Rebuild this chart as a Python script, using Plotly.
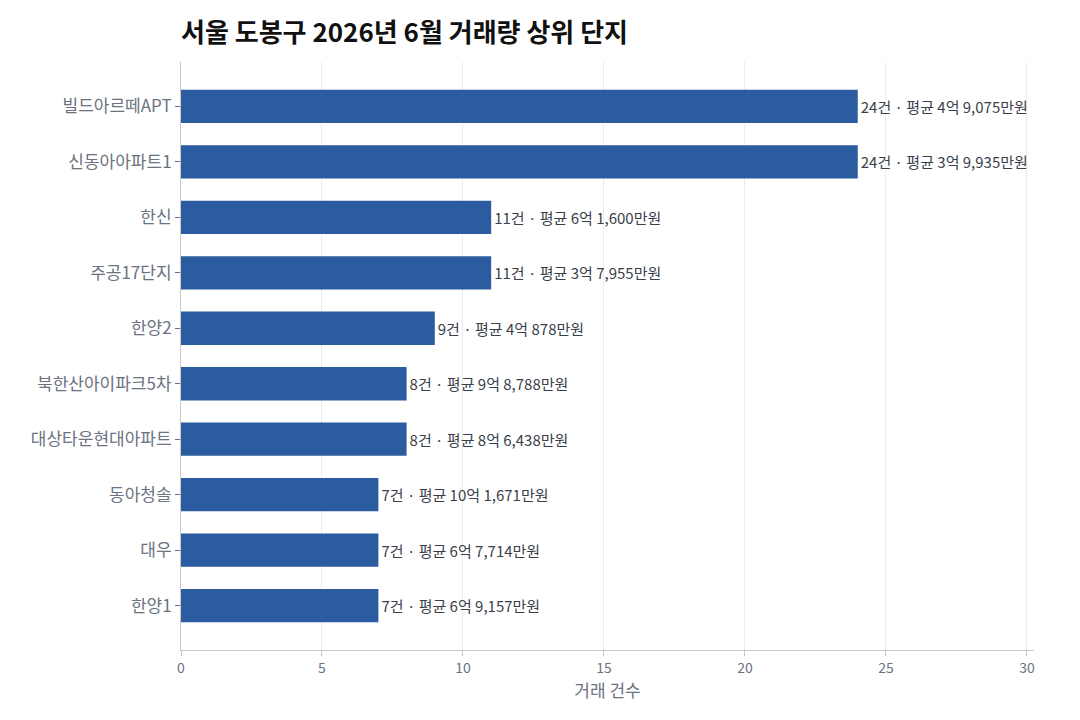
import plotly.graph_objects as go

complexes = ["빌드아르떼APT", "신동아아파트1", "한신", "주공17단지", "한양2",
             "북한산아이파크5차", "대상타운현대아파트", "동아청솔", "대우", "한양1"]
counts = [24, 24, 11, 11, 9, 8, 8, 7, 7, 7]
avg_price_labels = ["4억 9,075만원", "3억 9,935만원", "6억 1,600만원", "3억 7,955만원",
                    "4억 878만원", "9억 8,788만원", "8억 6,438만원", "10억 1,671만원",
                    "6억 7,714만원", "6억 9,157만원"]

labels = [f"{c}건 · 평균 {p}" for c, p in zip(counts, avg_price_labels)]

FONT = "Noto Sans CJK KR"

fig = go.Figure(go.Bar(
    x=counts, y=complexes, orientation="h",
    marker=dict(color="#2B5C9F", line=dict(width=0)),
    width=0.6,
    text=labels, textposition="outside", cliponaxis=False,
    textfont=dict(family=FONT, size=15, color="#3a3f4b"),
    hoverinfo="skip",
))

fig.update_layout(
    width=1080, height=720,
    margin=dict(l=181, r=46, t=62, b=70),
    paper_bgcolor="white", plot_bgcolor="white",
    font=dict(family=FONT),
    title=dict(text="<b>서울 도봉구 2026년 6월 거래량 상위 단지</b>",
               x=181/1080, xanchor="left", y=0.955, yanchor="middle",
               font=dict(size=26, color="#111111", family=FONT)),
    showlegend=False,
    uniformtext=dict(mode=False),
)
fig.update_xaxes(
    range=[0, 30.25], tickvals=[0, 5, 10, 15, 20, 25, 30],
    showgrid=True, gridcolor="#ebebeb", gridwidth=1,
    showline=True, linecolor="#c8c8c8", linewidth=1,
    ticks="outside", ticklen=5, tickcolor="#c8c8c8",
    tickfont=dict(size=14, color="#6b7280", family=FONT),
    title=dict(text="거래 건수", font=dict(size=17, color="#6b7280", family=FONT), standoff=6),
    zeroline=False,
)
fig.update_yaxes(
    categoryorder="array", categoryarray=complexes, autorange=False,
    range=[9.8, -0.8],
    showgrid=False,
    showline=True, linecolor="#c8c8c8", linewidth=1,
    ticks="outside", ticklen=5, tickcolor="#6b7280",
    tickfont=dict(size=17, color="#6b7280", family=FONT),
)

fig.write_html("out.html")
